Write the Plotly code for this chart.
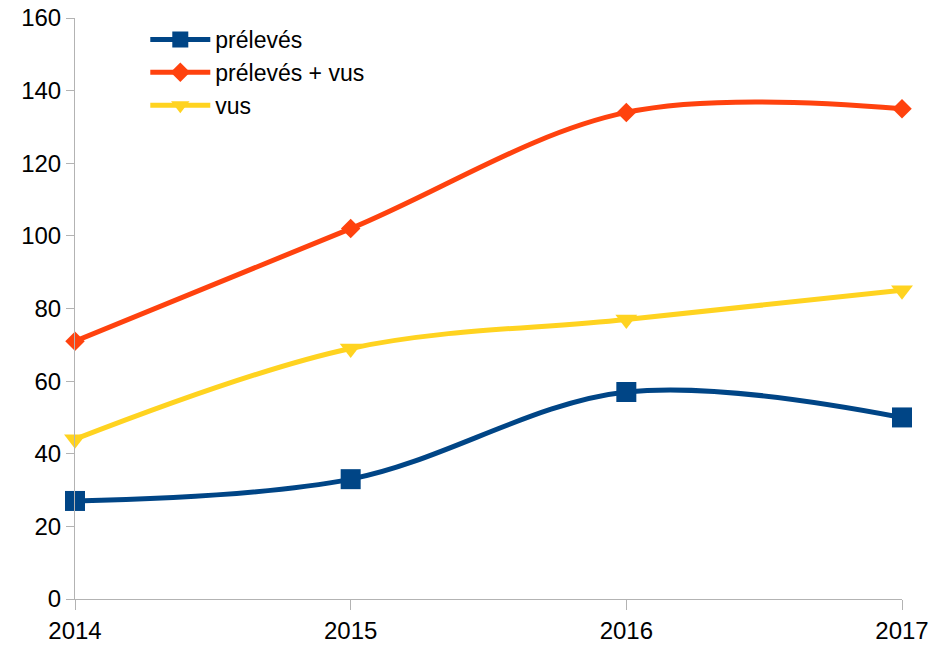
import plotly.graph_objects as go

years = [2014, 2015, 2016, 2017]
preleves = [27, 33, 57, 50]
preleves_vus = [71, 102, 134, 135]
vus = [44, 69, 77, 85]

series = [
    ("prélevés", preleves, "#004586", "square", 20),
    ("prélevés + vus", preleves_vus, "#ff420e", "diamond", 15),
    ("vus", vus, "#ffd320", "triangle-down", 19),
]

fig = go.Figure()
for name, vals, color, symbol, size in series:
    fig.add_trace(
        go.Scatter(
            x=years,
            y=vals,
            name=name,
            mode="lines+markers",
            line=dict(color=color, width=5, shape="spline", smoothing=1.0),
            marker=dict(symbol=symbol, size=size, color=color),
            cliponaxis=False,
        )
    )

axis_font = dict(family="Liberation Sans, Arial, sans-serif", size=24, color="#000000")
axis_common = dict(
    showgrid=False,
    zeroline=False,
    showline=True,
    linecolor="#b3b3b3",
    linewidth=1,
    ticks="outside",
    tickcolor="#b3b3b3",
    tickfont=axis_font,
    automargin=False,
)
fig.update_layout(
    width=935,
    height=645,
    paper_bgcolor="white",
    plot_bgcolor="white",
    margin=dict(l=75, r=33, t=18, b=46),
    font=axis_font,
    showlegend=True,
    legend=dict(
        x=0.085,
        y=1.0,
        xanchor="left",
        yanchor="top",
        bgcolor="rgba(0,0,0,0)",
        font=dict(family="Liberation Sans, Arial, sans-serif", size=23, color="#000000"),
        itemwidth=60,
        tracegroupgap=0,
    ),
    xaxis=dict(
        range=[2014, 2017],
        tickvals=years,
        ticktext=[str(y) for y in years],
        ticklen=10,
        **axis_common,
    ),
    yaxis=dict(
        range=[0, 160],
        dtick=20,
        ticklen=8,
        **axis_common,
    ),
)

# drop the default 8px page margin so the figure fills the window exactly
fig.write_html(
    "out.html",
    config={"displayModeBar": False},
    post_script="document.body.style.margin='0';",
)
